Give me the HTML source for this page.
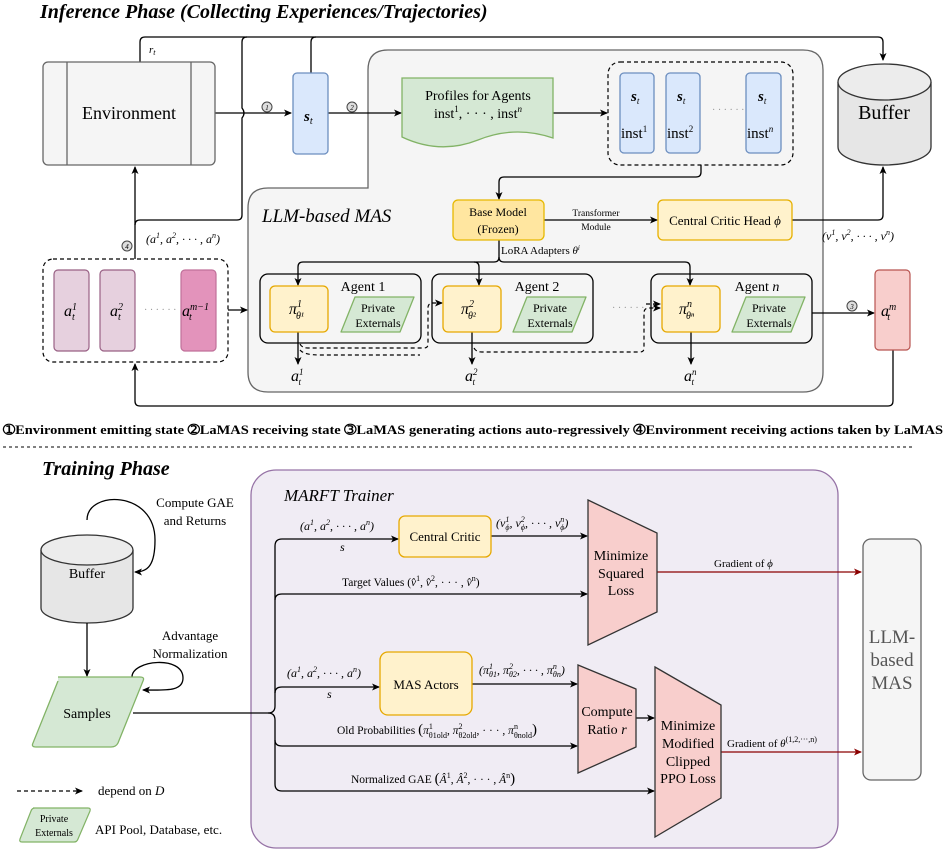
<!DOCTYPE html>
<html><head><meta charset="utf-8"><style>
body{margin:0;background:#fff}
svg{display:block;font-family:"Liberation Serif","DejaVu Serif",serif}
svg text, svg tspan{font-family:"Liberation Serif","DejaVu Serif",serif !important}
</style></head><body>
<svg width="947" height="851" viewBox="0 0 947 851" xmlns="http://www.w3.org/2000/svg">
<defs>
<marker id="a" markerWidth="8" markerHeight="8" refX="7" refY="4" orient="auto" markerUnits="userSpaceOnUse"><path d="M0,0.5 L8,4 L0,7.5 L2,4z" fill="#000"/></marker>
<marker id="r" markerWidth="8" markerHeight="8" refX="7" refY="4" orient="auto" markerUnits="userSpaceOnUse"><path d="M0,0.5 L8,4 L0,7.5 L2,4z" fill="#8b0000"/></marker>
</defs>
<text x="40" y="18" font-size="20" font-weight="bold" font-style="italic">Inference Phase (Collecting Experiences/Trajectories)</text>

<path d="M388,50 H803 Q823,50 823,70 V372 Q823,392 803,392 H268 Q248,392 248,372 V208 Q248,188 268,188 H368 V70 Q368,50 388,50Z" fill="#f5f5f5" stroke="#666" stroke-width="1.3"/>

<g fill="none" stroke="#000" stroke-width="1.3">
<path d="M140,62 V42 Q140,37 145,37 H878 Q883,37 883,42 V60" marker-end="url(#a)"/>
<path d="M311,73 V42 Q311,37 316,37"/>
<path d="M135,259 V167" marker-end="url(#a)"/>
<path d="M135,225 Q135,220 140,220 H237 Q242,220 242,215 V118 Q246,113 242,108 V42 Q242,37 247,37"/>
<path d="M215,113 H291" marker-end="url(#a)"/>
<path d="M328,113 H401" marker-end="url(#a)"/>
<path d="M553,113 H607" marker-end="url(#a)"/>
<path d="M701,165 V172 Q701,177 696,177 H504 Q499,177 499,182 V199" marker-end="url(#a)"/>
<path d="M544,220 H657" marker-end="url(#a)"/>
<path d="M792,220 H878 Q883,220 883,215 V167" marker-end="url(#a)"/>
<path d="M499,240 V257 Q499,262 494,262 H303 Q298,262 298,267 V285" marker-end="url(#a)"/>
<path d="M474,262 Q479,262 479,267 V285" marker-end="url(#a)"/>
<path d="M499,257 Q499,262 504,262 H685 Q690,262 690,267 V285" marker-end="url(#a)"/>
<path d="M298,332 V364" marker-end="url(#a)"/>
<path d="M472,332 V364" marker-end="url(#a)"/>
<path d="M691,332 V364" marker-end="url(#a)"/>
<path d="M228,310 H247" marker-end="url(#a)"/>
<path d="M812,313 H874" marker-end="url(#a)"/>
<path d="M893,350 V401 Q893,406 888,406 H140 Q135,406 135,401 V364" marker-end="url(#a)"/>
</g>
<g fill="none" stroke="#000" stroke-width="1.2" stroke-dasharray="4,3">
<path d="M300,344 Q302,348 308,348 H424 Q428,348 428,344 V308 Q428,303 433,303 H442" marker-end="url(#a)"/>
<path d="M474,348 Q476,352 482,352 H640 Q644,352 644,348 V313 Q644,308 649,308 H660" marker-end="url(#a)"/>
<path d="M300,350 Q304,355 320,355 H420"/>
<path d="M646,304 H660" marker-end="url(#a)"/>
</g>

<rect x="43" y="62" width="172" height="103" rx="5" fill="#f5f5f5" stroke="#666" stroke-width="1.3"/>
<line x1="67" y1="62" x2="67" y2="165" stroke="#666" stroke-width="1.3"/>
<line x1="191" y1="62" x2="191" y2="165" stroke="#666" stroke-width="1.3"/>
<text x="129" y="119" font-size="18" text-anchor="middle">Environment</text>
<text x="149" y="53" font-size="11" font-style="italic">r<tspan font-size="8" dy="2">t</tspan></text>

<g font-size="7" font-style="italic" text-anchor="middle">
<circle cx="267" cy="107" r="5" fill="#ddd" stroke="#444"/><text x="267" y="110">1</text>
<circle cx="352" cy="107" r="5" fill="#ddd" stroke="#444"/><text x="352" y="110">2</text>
<circle cx="852" cy="306" r="5" fill="#ddd" stroke="#444"/><text x="852" y="309">3</text>
<circle cx="127" cy="246" r="5" fill="#ddd" stroke="#444"/><text x="127" y="249">4</text>
</g>

<rect x="293" y="73" width="35" height="81" rx="4" fill="#dae8fc" stroke="#6c8ebf" stroke-width="1.3"/>
<text x="304" y="121" font-size="15" font-style="italic" font-weight="bold">s<tspan font-size="10" dy="3" font-weight="normal">t</tspan></text>

<path d="M402,78 H553 V138 Q515,125 478,140 Q440,155 402,137Z" fill="#d5e8d4" stroke="#82b366" stroke-width="1.3"/>
<text x="478" y="100" font-size="14" text-anchor="middle">Profiles for Agents</text>
<text x="478" y="118" font-size="14" text-anchor="middle">inst<tspan font-size="9" dy="-6">1</tspan><tspan dy="6">, · · · , inst</tspan><tspan font-size="9" dy="-6" font-style="italic">n</tspan></text>

<rect x="608" y="62" width="185" height="103" rx="12" fill="none" stroke="#000" stroke-width="1.2" stroke-dasharray="4,3"/>
<g font-size="15">
<rect x="620" y="73" width="34" height="80" rx="4" fill="#dae8fc" stroke="#6c8ebf" stroke-width="1.3"/>
<rect x="666" y="73" width="34" height="80" rx="4" fill="#dae8fc" stroke="#6c8ebf" stroke-width="1.3"/>
<rect x="746" y="73" width="35" height="80" rx="4" fill="#dae8fc" stroke="#6c8ebf" stroke-width="1.3"/>
<text x="631" y="101" font-style="italic" font-weight="bold">s<tspan font-size="9" dy="3" font-weight="normal">t</tspan></text>
<text x="677" y="101" font-style="italic" font-weight="bold">s<tspan font-size="9" dy="3" font-weight="normal">t</tspan></text>
<text x="758" y="101" font-style="italic" font-weight="bold">s<tspan font-size="9" dy="3" font-weight="normal">t</tspan></text>
<text x="621" y="138">inst<tspan font-size="9" dy="-6">1</tspan></text>
<text x="667" y="138">inst<tspan font-size="9" dy="-6">2</tspan></text>
<text x="747" y="138">inst<tspan font-size="9" dy="-6" font-style="italic">n</tspan></text>
<text x="712" y="113" fill="#999" font-size="10">· · · · · ·</text>
</g>

<path d="M838,82 V147 A46.5,18 0 0 0 931,147 V82" fill="#e6e6e6" stroke="#333" stroke-width="1.3"/>
<ellipse cx="884.5" cy="82" rx="46.5" ry="18" fill="#ececec" stroke="#333" stroke-width="1.3"/>
<text x="884" y="119" font-size="20" text-anchor="middle">Buffer</text>
<text x="822" y="240" font-size="12" font-style="italic">(v<tspan font-size="8" dy="-5">1</tspan><tspan dy="5">, v</tspan><tspan font-size="8" dy="-5">2</tspan><tspan dy="5">, · · · , v</tspan><tspan font-size="8" dy="-5">n</tspan><tspan dy="5">)</tspan></text>

<text x="262" y="222" font-size="19" font-style="italic">LLM-based MAS</text>
<rect x="453" y="200" width="91" height="40" rx="5" fill="#ffe6a0" stroke="#e6b800" stroke-width="1.3"/>
<text x="498" y="216" font-size="12" text-anchor="middle">Base Model</text>
<text x="498" y="233" font-size="12" text-anchor="middle">(Frozen)</text>
<text x="596" y="216" font-size="9.5" text-anchor="middle">Transformer</text>
<text x="596" y="230" font-size="9.5" text-anchor="middle">Module</text>
<rect x="658" y="200" width="134" height="40" rx="5" fill="#fff2cc" stroke="#e6b000" stroke-width="1.3"/>
<text x="725" y="225" font-size="13" text-anchor="middle">Central Critic Head <tspan font-style="italic">ϕ</tspan></text>
<text x="501" y="254" font-size="11">LoRA Adapters <tspan font-style="italic">θ</tspan><tspan font-size="7" dy="-4" font-style="italic">i</tspan></text>

<g stroke-width="1.3">
<rect x="260" y="274" width="161" height="69" rx="8" fill="none" stroke="#000"/>
<rect x="432" y="274" width="161" height="69" rx="8" fill="none" stroke="#000"/>
<rect x="651" y="274" width="161" height="69" rx="8" fill="none" stroke="#000"/>
<rect x="270" y="286" width="58" height="46" rx="5" fill="#fff2cc" stroke="#e6a800"/>
<rect x="443" y="286" width="58" height="46" rx="5" fill="#fff2cc" stroke="#e6a800"/>
<rect x="662" y="286" width="58" height="46" rx="5" fill="#fff2cc" stroke="#e6a800"/>
<path d="M355,297 H414 L400,332 H341Z" fill="#d5e8d4" stroke="#82b366" stroke-linejoin="round"/>
<path d="M527,297 H586 L572,332 H513Z" fill="#d5e8d4" stroke="#82b366" stroke-linejoin="round"/>
<path d="M746,297 H805 L791,332 H732Z" fill="#d5e8d4" stroke="#82b366" stroke-linejoin="round"/>
</g>
<g font-size="12" text-anchor="middle">
<text x="378" y="312">Private</text><text x="378" y="327">Externals</text>
<text x="550" y="312">Private</text><text x="550" y="327">Externals</text>
<text x="769" y="312">Private</text><text x="769" y="327">Externals</text>
</g>
<g font-size="14" text-anchor="middle">
<text x="363" y="291">Agent 1</text><text x="537" y="291">Agent 2</text><text x="757" y="291">Agent <tspan font-style="italic">n</tspan></text>
</g>
<g font-size="16" font-style="italic">
<text x="289" y="314">π<tspan font-size="10" dy="-7">1</tspan><tspan font-size="10" dy="12" dx="-6">θ¹</tspan></text>
<text x="461" y="314">π<tspan font-size="10" dy="-7">2</tspan><tspan font-size="10" dy="12" dx="-6">θ²</tspan></text>
<text x="679" y="314">π<tspan font-size="10" dy="-7">n</tspan><tspan font-size="10" dy="12" dx="-6">θⁿ</tspan></text>
<text x="291" y="381">a<tspan font-size="9" dy="-6">1</tspan><tspan font-size="9" dy="10" dx="-5">t</tspan></text>
<text x="465" y="381">a<tspan font-size="9" dy="-6">2</tspan><tspan font-size="9" dy="10" dx="-5">t</tspan></text>
<text x="684" y="381">a<tspan font-size="9" dy="-6">n</tspan><tspan font-size="9" dy="10" dx="-5">t</tspan></text>
</g>
<text x="612" y="311" fill="#999" font-size="10">· · · · · ·</text>

<rect x="43" y="259" width="185" height="103" rx="10" fill="#fff" stroke="#000" stroke-width="1.2" stroke-dasharray="4,3"/>
<rect x="54" y="270" width="35" height="81" rx="4" fill="#e6d0de" stroke="#996185" stroke-width="1.2"/>
<rect x="100" y="270" width="35" height="81" rx="4" fill="#e6d0de" stroke="#996185" stroke-width="1.2"/>
<rect x="181" y="270" width="35" height="81" rx="4" fill="#e393bb" stroke="#c0709a" stroke-width="1.2"/>
<rect x="875" y="270" width="35" height="80" rx="4" fill="#f8cecc" stroke="#b85450" stroke-width="1.2"/>
<g font-size="16" font-style="italic">
<text x="64" y="316">a<tspan font-size="10" dy="-6">1</tspan><tspan font-size="10" dy="10" dx="-5">t</tspan></text>
<text x="110" y="316">a<tspan font-size="10" dy="-6">2</tspan><tspan font-size="10" dy="10" dx="-5">t</tspan></text>
<text x="182" y="316">a<tspan font-size="10" dy="-6">m−1</tspan><tspan font-size="10" dy="10" dx="-20">t</tspan></text>
<text x="881" y="316">a<tspan font-size="10" dy="-6">m</tspan><tspan font-size="10" dy="10" dx="-9">t</tspan></text>
</g>
<text x="144" y="313" fill="#999" font-size="10">· · · · · ·</text>
<text x="146" y="243" font-size="12" font-style="italic">(a<tspan font-size="8" dy="-5">1</tspan><tspan dy="5">, a</tspan><tspan font-size="8" dy="-5">2</tspan><tspan dy="5">, · · · , a</tspan><tspan font-size="8" dy="-5">n</tspan><tspan dy="5">)</tspan></text>

<text x="3" y="434" font-size="13" font-weight="bold" textLength="940" lengthAdjust="spacingAndGlyphs">➀Environment emitting state    ➁LaMAS receiving state    ➂LaMAS generating actions auto-regressively    ➃Environment receiving actions taken by LaMAS</text>
<line x1="3" y1="447" x2="915" y2="447" stroke="#000" stroke-width="1" stroke-dasharray="3,3"/>

<text x="42" y="475" font-size="20" font-weight="bold" font-style="italic">Training Phase</text>
<rect x="251" y="470" width="587" height="378" rx="25" fill="#f0ecf4" stroke="#9673a6" stroke-width="1.3"/>
<text x="284" y="501" font-size="17" font-style="italic">MARFT Trainer</text>

<path d="M41,550 V608 A46,15 0 0 0 133,608 V550" fill="#e6e6e6" stroke="#333" stroke-width="1.3"/>
<ellipse cx="87" cy="550" rx="46" ry="15" fill="#ececec" stroke="#333" stroke-width="1.3"/>
<text x="87" y="578" font-size="14" text-anchor="middle">Buffer</text>
<g fill="none" stroke="#000" stroke-width="1.3">
<path d="M87,520 C87,490 155,490 155,540 C155,565 148,572 135,572" marker-end="url(#a)"/>
<path d="M87,623 V676" marker-end="url(#a)"/>
<path d="M132,677 C132,660 183,655 183,678 C183,692 165,690 143,690" marker-end="url(#a)"/>
<path d="M133,713 H268 Q275,713 275,706 V546 Q275,539 282,539 H398" marker-end="url(#a)"/>
<path d="M275,600 Q275,594 282,594 H587" marker-end="url(#a)"/>
<path d="M275,693 Q275,687 282,687 H379" marker-end="url(#a)"/>
<path d="M268,713 Q275,713 275,720 V784 Q275,791 282,791 H654" marker-end="url(#a)"/>
<path d="M275,740 Q275,746 282,746 H577" marker-end="url(#a)"/>
<path d="M491,536 H587" marker-end="url(#a)"/>
<path d="M472,684 H577" marker-end="url(#a)"/>
<path d="M636,718 H654" marker-end="url(#a)"/>
<path d="M17,791 H82" stroke-dasharray="4,3" marker-end="url(#a)"/>
</g>
<g stroke="#8b0000" stroke-width="1.3" fill="none">
<path d="M657,572 H861" marker-end="url(#r)"/>
<path d="M721,752 H861" marker-end="url(#r)"/>
</g>
<path d="M58,677 H140 Q145,677 143,681 L118,743 Q116,747 111,747 H36 Q31,747 33,743 L58,681" fill="#d5e8d4" stroke="#82b366" stroke-width="1.3"/>
<text x="87" y="718" font-size="14" text-anchor="middle">Samples</text>
<text x="195" y="507" font-size="13" text-anchor="middle">Compute GAE</text>
<text x="195" y="525" font-size="13" text-anchor="middle">and Returns</text>
<text x="190" y="640" font-size="13" text-anchor="middle">Advantage</text>
<text x="190" y="658" font-size="13" text-anchor="middle">Normalization</text>

<rect x="399" y="516" width="92" height="41" rx="6" fill="#fff2cc" stroke="#e6a800" stroke-width="1.3"/>
<text x="445" y="541" font-size="13" text-anchor="middle">Central Critic</text>
<rect x="380" y="652" width="92" height="63" rx="8" fill="#fff2cc" stroke="#e6a800" stroke-width="1.3"/>
<text x="426" y="689" font-size="13" text-anchor="middle">MAS Actors</text>

<path d="M588,500 L657,533 V612 L588,645Z" fill="#f8cecc" stroke="#333" stroke-width="1.3"/>
<path d="M578,665 L636,689 V747 L578,773Z" fill="#f8cecc" stroke="#333" stroke-width="1.3"/>
<path d="M655,667 L721,705 V798 L655,837Z" fill="#f8cecc" stroke="#333" stroke-width="1.3"/>
<g font-size="14" text-anchor="middle">
<text x="621" y="560">Minimize</text><text x="621" y="578">Squared</text><text x="621" y="595">Loss</text>
<text x="607" y="716">Compute</text><text x="607" y="734">Ratio <tspan font-style="italic">r</tspan></text>
<text x="688" y="730">Minimize</text><text x="688" y="748">Modified</text><text x="688" y="766">Clipped</text><text x="688" y="783">PPO Loss</text>
</g>
<text x="714" y="567" font-size="11">Gradient of <tspan font-style="italic">ϕ</tspan></text>
<text x="727" y="747" font-size="11">Gradient of <tspan font-style="italic">θ</tspan><tspan font-size="8" dy="-5">(1,2,···,n)</tspan></text>
<rect x="863" y="539" width="58" height="241" rx="8" fill="#f5f5f5" stroke="#666" stroke-width="1.3"/>
<g font-size="19" fill="#555" text-anchor="middle"><text x="892" y="643">LLM-</text><text x="892" y="666">based</text><text x="892" y="689">MAS</text></g>

<g font-size="12" font-style="italic">
<text x="300" y="530">(a<tspan font-size="8" dy="-5">1</tspan><tspan dy="5">, a</tspan><tspan font-size="8" dy="-5">2</tspan><tspan dy="5">, · · · , a</tspan><tspan font-size="8" dy="-5">n</tspan><tspan dy="5">)</tspan></text>
<text x="340" y="551">s</text>
<text x="287" y="677">(a<tspan font-size="8" dy="-5">1</tspan><tspan dy="5">, a</tspan><tspan font-size="8" dy="-5">2</tspan><tspan dy="5">, · · · , a</tspan><tspan font-size="8" dy="-5">n</tspan><tspan dy="5">)</tspan></text>
<text x="327" y="698">s</text>
<text x="496" y="527">(v<tspan font-size="8" dy="-5">1</tspan><tspan font-size="8" dy="8" dx="-4">ϕ</tspan><tspan dy="-3">, v</tspan><tspan font-size="8" dy="-5">2</tspan><tspan font-size="8" dy="8" dx="-4">ϕ</tspan><tspan dy="-3">, · · · , v</tspan><tspan font-size="8" dy="-5">n</tspan><tspan font-size="8" dy="8" dx="-4">ϕ</tspan><tspan dy="-3">)</tspan></text>
<text x="479" y="674">(π<tspan font-size="8" dy="-5">1</tspan><tspan font-size="8" dy="8" dx="-4">θ1</tspan><tspan dy="-3">, π</tspan><tspan font-size="8" dy="-5">2</tspan><tspan font-size="8" dy="8" dx="-4">θ2</tspan><tspan dy="-3">, · · · , π</tspan><tspan font-size="8" dy="-5">n</tspan><tspan font-size="8" dy="8" dx="-4">θn</tspan><tspan dy="-3">)</tspan></text>
</g>
<g font-size="11.5">
<text x="342" y="586">Target Values (<tspan font-style="italic">v̂</tspan><tspan font-size="8" dy="-5">1</tspan><tspan dy="5">, </tspan><tspan font-style="italic">v̂</tspan><tspan font-size="8" dy="-5">2</tspan><tspan dy="5">, · · · , </tspan><tspan font-style="italic">v̂</tspan><tspan font-size="8" dy="-5">n</tspan><tspan dy="5">)</tspan></text>
<text x="337" y="734">Old Probabilities <tspan font-size="15">(</tspan><tspan font-style="italic">π</tspan><tspan font-size="8" dy="-5">1</tspan><tspan font-size="8" dy="9" dx="-4">θ1old</tspan><tspan dy="-4">, </tspan><tspan font-style="italic">π</tspan><tspan font-size="8" dy="-5">2</tspan><tspan font-size="8" dy="9" dx="-4">θ2old</tspan><tspan dy="-4">, · · · , </tspan><tspan font-style="italic">π</tspan><tspan font-size="8" dy="-5">n</tspan><tspan font-size="8" dy="9" dx="-4">θnold</tspan><tspan dy="-4" font-size="15">)</tspan></text>
<text x="351" y="783">Normalized GAE <tspan font-size="15">(</tspan><tspan font-style="italic">Â</tspan><tspan font-size="8" dy="-5">1</tspan><tspan dy="5">, </tspan><tspan font-style="italic">Â</tspan><tspan font-size="8" dy="-5">2</tspan><tspan dy="5">, · · · , </tspan><tspan font-style="italic">Â</tspan><tspan font-size="8" dy="-5">n</tspan><tspan dy="5" font-size="15">)</tspan></text>
</g>

<text x="98" y="795" font-size="13">depend on <tspan font-style="italic">D</tspan></text>
<path d="M33,808 H88 Q91,808 90,811 L78,839 Q77,842 74,842 H22 Q19,842 20,839 L31,811 Q32,808 35,808Z" fill="#d5e8d4" stroke="#82b366" stroke-width="1.2"/>
<text x="54" y="822" font-size="10" text-anchor="middle">Private</text>
<text x="54" y="836" font-size="10" text-anchor="middle">Externals</text>
<text x="95" y="834" font-size="13">API Pool, Database, etc.</text>
</svg>
</body></html>
